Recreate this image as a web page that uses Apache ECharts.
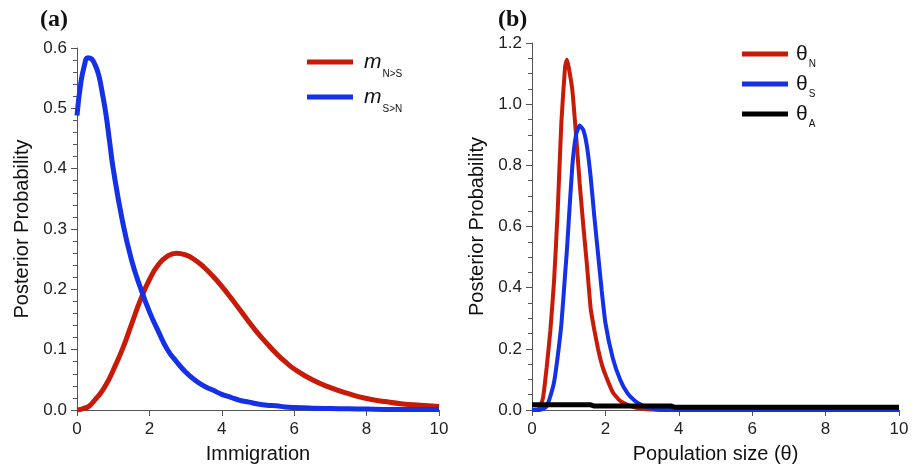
<!DOCTYPE html>
<html>
<head>
<meta charset="utf-8">
<script src="https://cdn.jsdelivr.net/npm/echarts@6/dist/echarts.min.js"></script>
<style>
    html, body { margin: 0; padding: 0; background: #fff; }
    #main { width: 917px; height: 469px; }
</style>
</head>
<body>
<div id="main"></div>
<script>
// (a) migration rate
var immX = [0, 0.1, 0.2, 0.3, 0.4, 0.5, 0.6, 0.7, 0.8, 0.9, 1.0, 1.25, 1.5, 1.75, 2.0, 2.25, 2.5, 2.75, 3.0, 3.25, 3.5, 3.75, 4.0, 4.25, 4.5, 4.75, 5.0, 5.25, 5.5, 5.75, 6.0, 6.5, 7.0, 7.5, 8.0, 8.5, 9.0, 9.5, 10];
var mNS = [0, 0.001, 0.003, 0.005, 0.01, 0.017, 0.024, 0.032, 0.042, 0.053, 0.066, 0.1, 0.141, 0.182, 0.216, 0.241, 0.255, 0.26, 0.257, 0.249, 0.237, 0.222, 0.205, 0.186, 0.166, 0.146, 0.127, 0.11, 0.094, 0.08, 0.068, 0.05, 0.037, 0.027, 0.019, 0.014, 0.01, 0.008, 0.006];
var mSN = [0.488, 0.54, 0.57, 0.584, 0.582, 0.572, 0.555, 0.525, 0.49, 0.445, 0.4, 0.315, 0.25, 0.203, 0.163, 0.13, 0.1, 0.08, 0.063, 0.05, 0.04, 0.033, 0.026, 0.021, 0.016, 0.013, 0.01, 0.008, 0.007, 0.005, 0.004, 0.003, 0.0025, 0.002, 0.0015, 0.001, 0.001, 0.001, 0.001];

// (b) population size
var thetaX = [0, 0.2, 0.3, 0.4, 0.5, 0.6, 0.7, 0.8, 0.9, 0.95, 1.0, 1.1, 1.2, 1.3, 1.4, 1.5, 1.6, 1.7, 1.8, 1.9, 2.0, 2.2, 2.4, 2.6, 2.8, 3.0, 3.2, 3.4, 3.6, 4, 5, 6, 7, 8, 9, 10];
var thetaN = [0, 0.005, 0.04, 0.14, 0.26, 0.42, 0.65, 0.94, 1.12, 1.145, 1.12, 1.045, 0.9, 0.74, 0.6, 0.47, 0.33, 0.26, 0.2, 0.15, 0.115, 0.058, 0.03, 0.017, 0.009, 0.004, 0.002, 0.001, 0, 0, 0, 0, 0, 0, 0, 0];
var thetaS = [0, 0, 0.003, 0.012, 0.045, 0.09, 0.175, 0.28, 0.44, 0.52, 0.615, 0.8, 0.9, 0.93, 0.915, 0.86, 0.76, 0.63, 0.51, 0.39, 0.285, 0.17, 0.1, 0.055, 0.03, 0.015, 0.006, 0.002, 0.001, 0, 0, 0, 0, 0, 0, 0];
var thetaAX = [0, 1.6, 1.7, 3.8, 3.9, 10];
var thetaA = [0.017, 0.017, 0.013, 0.013, 0.009, 0.009];

var RED = '#c81a06';
var BLUE = '#1430e8';
var FONT = 'Liberation Sans, Arial, sans-serif';

function pairs(xs, ys) {
    return xs.map(function (x, i) { return [x, ys[i]]; });
}

function xAxisOf(gridIndex, name) {
    return {
        type: 'value', gridIndex: gridIndex, min: 0, max: 10, interval: 2,
        name: name, nameLocation: 'middle', nameGap: 34,
        nameTextStyle: {fontFamily: FONT, fontSize: 20, color: '#111'},
        axisLine: {lineStyle: {color: '#555', width: 1}},
        axisTick: {show: true, length: 6, lineStyle: {color: '#555'}},
        axisLabel: {fontFamily: FONT, fontSize: 17, color: '#222', margin: 11},
        splitLine: {show: false}
    };
}

function yAxisOf(gridIndex, max, interval, minorSplit) {
    return {
        type: 'value', gridIndex: gridIndex, min: 0, max: max, interval: interval,
        name: 'Posterior Probability', nameLocation: 'middle', nameGap: 45,
        nameTextStyle: {fontFamily: FONT, fontSize: 20, color: '#111'},
        axisLine: {show: true, lineStyle: {color: '#555', width: 1}},
        axisTick: {show: true, length: 6, lineStyle: {color: '#555'}},
        minorTick: {show: true, splitNumber: minorSplit, length: 4, lineStyle: {color: '#555'}},
        axisLabel: {fontFamily: FONT, fontSize: 17, color: '#222', margin: 10,
            formatter: function (v) { return v.toFixed(1); }},
        splitLine: {show: false}
    };
}

// symbol + subscript; line box is 36 high so the subscript sits 12px under the symbol
var legendRich = {
    m: {fontFamily: FONT, fontSize: 21, fontStyle: 'italic', color: '#111', lineHeight: 36, padding: [0, 0, 0, 6]},
    t: {fontFamily: FONT, fontSize: 21, color: '#111', lineHeight: 36, padding: [0, 0, 0, 3]},
    s: {fontFamily: FONT, fontSize: 10, color: '#111', lineHeight: 12, padding: [24, 0, 0, 1]},
    sb: {fontFamily: FONT, fontSize: 10, color: '#111', lineHeight: 12, padding: [22, 0, 2, 1]}
};

var legendLabels = {
    mNS: '{m|m}{s|N>S}',
    mSN: '{m|m}{s|S>N}',
    thN: '{t|θ}{sb|N}',
    thS: '{t|θ}{sb|S}',
    thA: '{t|θ}{sb|A}'
};

var chart = echarts.init(document.getElementById('main'));

var option = {
    backgroundColor: '#fff',
    animation: false,
    title: [
        {text: '(a)', left: 35, top: 3,
            textStyle: {fontFamily: 'Liberation Serif, serif', fontWeight: 'bold', fontSize: 24, color: '#111'}},
        {text: '(b)', left: 493, top: 3,
            textStyle: {fontFamily: 'Liberation Serif, serif', fontWeight: 'bold', fontSize: 24, color: '#111'}}
    ],
    grid: [
        {left: 77, top: 48, width: 362, height: 367},
        {left: 532, top: 43, width: 367, height: 371}
    ],
    legend: [
        {
            data: ['mNS', 'mSN'], orient: 'vertical', left: 307, top: 45, padding: 0,
            icon: 'rect', itemWidth: 46, itemHeight: 5, itemGap: 1,
            formatter: function (name) { return legendLabels[name]; },
            textStyle: {rich: legendRich}
        },
        {
            data: ['thN', 'thS', 'thA'], orient: 'vertical', left: 742, top: 37, padding: 0,
            icon: 'rect', itemWidth: 46, itemHeight: 5, itemGap: -4,
            formatter: function (name) { return legendLabels[name]; },
            textStyle: {rich: legendRich}
        }
    ],
    xAxis: [xAxisOf(0, 'Immigration'), xAxisOf(1, 'Population size (θ)')],
    yAxis: [yAxisOf(0, 0.6, 0.1, 5), yAxisOf(1, 1.2, 0.2, 4)],
    series: [
        {name: 'mNS', type: 'line', xAxisIndex: 0, yAxisIndex: 0, data: pairs(immX, mNS),
            showSymbol: false, smooth: 0.5, color: RED, lineStyle: {width: 5, color: RED}},
        {name: 'mSN', type: 'line', xAxisIndex: 0, yAxisIndex: 0, data: pairs(immX, mSN),
            showSymbol: false, smooth: 0.5, color: BLUE, lineStyle: {width: 5, color: BLUE}},
        {name: 'thN', type: 'line', xAxisIndex: 1, yAxisIndex: 1, data: pairs(thetaX, thetaN),
            showSymbol: false, smooth: 0.15, color: RED, lineStyle: {width: 4, color: RED}},
        {name: 'thS', type: 'line', xAxisIndex: 1, yAxisIndex: 1, data: pairs(thetaX, thetaS),
            showSymbol: false, smooth: 0.15, color: BLUE, lineStyle: {width: 4, color: BLUE}},
        {name: 'thA', type: 'line', xAxisIndex: 1, yAxisIndex: 1, data: pairs(thetaAX, thetaA),
            showSymbol: false, color: '#000', lineStyle: {width: 5, color: '#000'}}
    ]
};

chart.setOption(option);
</script>
</body>
</html>
